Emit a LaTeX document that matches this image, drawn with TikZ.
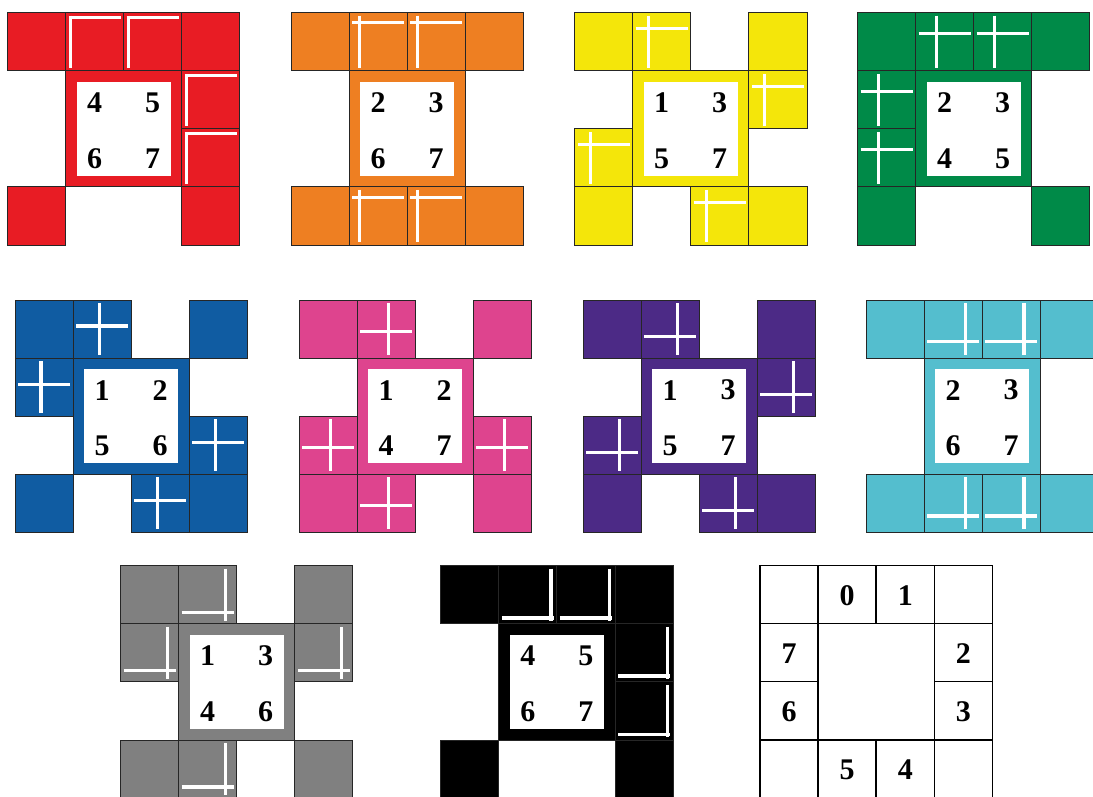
\documentclass[tikz,border=0pt]{standalone}
\usepackage{fontspec}
\setmainfont{Liberation Serif}
\definecolor{cred}{RGB}{232,28,36}
\definecolor{corange}{RGB}{238,127,34}
\definecolor{cyellow}{RGB}{244,230,10}
\definecolor{cgreen}{RGB}{0,138,72}
\definecolor{cblue}{RGB}{16,92,162}
\definecolor{cpink}{RGB}{222,68,142}
\definecolor{cpurple}{RGB}{76,42,134}
\definecolor{ccyan}{RGB}{84,190,206}
\definecolor{cgray}{RGB}{128,128,128}
\definecolor{cblack}{RGB}{0,0,0}
\def\csz{58.1}
\tikzset{
  cellbox/.style={draw=black!85, line width=1pt},
  refbox/.style={draw=black, line width=1.5pt, fill=white},
  markline/.style={draw=white, line width=3.2pt},
  numlabel/.style={font={\fontsize{30}{32}\selectfont\bfseries}, inner sep=0pt, text=black},
}
% #1 id, #2 x, #3 y, #4 colour, #5 mark offset, #6 present cells (col/row), #7 numbers a/b/c/d
\newcommand\drawpanel[7]{%
  \begin{scope}[shift={(#2,#3)}]
    \foreach \cx/\ry in {0/0,3/0,0/3,3/3}
      \path[cellbox, fill=#4] (\cx*\csz,\ry*\csz) rectangle ++(\csz,\csz);
    \foreach \cx/\ry in {#6} {
      \path[cellbox, fill=#4] (\cx*\csz,\ry*\csz) rectangle ++(\csz,\csz);
      \draw[markline] (\cx*\csz+#5,\ry*\csz+3) -- (\cx*\csz+#5,\ry*\csz+55);
      \draw[markline] (\cx*\csz+3,\ry*\csz+#5) -- (\cx*\csz+55,\ry*\csz+#5);
    }
    \path[cellbox, fill=#4] (\csz,\csz) rectangle (3*\csz,3*\csz);
    \fill[white] (\csz+11,\csz+11) rectangle (3*\csz-11,3*\csz-11);
    \foreach \na/\nb/\nc/\nd in {#7} {
      \node[numlabel] (#1-a) at (\csz+29,\csz+32) {\na};
      \node[numlabel] (#1-b) at (\csz+87,\csz+32) {\nb};
      \node[numlabel] (#1-c) at (\csz+29,\csz+88) {\nc};
      \node[numlabel] (#1-d) at (\csz+87,\csz+88) {\nd};
    }
  \end{scope}
}
\begin{document}
\begin{tikzpicture}[x=1pt, y=-1pt]
  \useasboundingbox (0,0) rectangle (1093,797);
  \clip (0,0) rectangle (1093,797);
  \fill[white] (0,0) rectangle (1093,797);
  % row 1
  \drawpanel{red}{7.5}{12.7}{cred}{5}{1/0,2/0,3/1,3/2}{4/5/6/7}
  \drawpanel{orange}{291}{12.7}{corange}{10.2}{1/0,2/0,2/3,1/3}{2/3/6/7}
  \drawpanel{yellow}{574.6}{12.7}{cyellow}{15.5}{1/0,3/1,2/3,0/2}{1/3/5/7}
  \drawpanel{green}{857.5}{12.7}{cgreen}{20.7}{1/0,2/0,0/2,0/1}{2/3/4/5}
  % row 2
  \drawpanel{blue}{15}{300}{cblue}{26}{1/0,3/2,2/3,0/1}{1/2/5/6}
  \drawpanel{pink}{299}{300}{cpink}{31.2}{1/0,3/2,1/3,0/2}{1/2/4/7}
  \drawpanel{purple}{583}{300}{cpurple}{36.5}{1/0,3/1,2/3,0/2}{1/3/5/7}
  \drawpanel{cyan}{866}{300}{ccyan}{41.7}{1/0,2/0,2/3,1/3}{2/3/6/7}
  % row 3
  \drawpanel{gray}{120.5}{565.7}{cgray}{47}{1/0,3/1,1/3,0/1}{1/3/4/6}
  \drawpanel{black}{440.7}{565.7}{cblack}{52.2}{1/0,2/0,3/1,3/2}{4/5/6/7}
  % reference layout
  \begin{scope}[shift={(760,565.5)}]
    \foreach \cx/\ry in {0/0,1/0,2/0,3/0,0/1,3/1,0/2,3/2,0/3,1/3,2/3,3/3}
      \path[refbox] (\cx*\csz,\ry*\csz) rectangle ++(\csz,\csz);
    \path[refbox] (\csz,\csz) rectangle (3*\csz,3*\csz);
    \foreach \k/\cx/\ry in {0/1/0,1/2/0,2/3/1,3/3/2,4/2/3,5/1/3,6/0/2,7/0/1}
      \node[numlabel] (ref-\k) at (\cx*\csz+0.5*\csz,\ry*\csz+0.5*\csz+1) {\k};
  \end{scope}
\end{tikzpicture}
\end{document}
